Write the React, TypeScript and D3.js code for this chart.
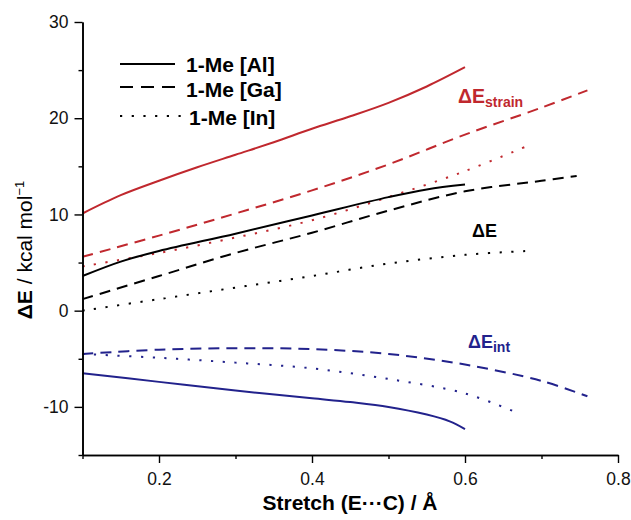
import React, { useEffect, useRef } from "react";
import * as d3 from "d3";

const xTicksMajor = [0.2, 0.4, 0.6, 0.8];
const xTicksMinor = [0.1, 0.3, 0.5, 0.7];
const yTicksMajor = [-10, 0, 10, 20, 30];
const yTicksMinor = [-15, -5, 5, 15, 25];

const alStrain: [number, number][] = [[0.1, 10.1], [0.15, 12.0], [0.2, 13.5], [0.25, 14.9], [0.3, 16.2], [0.35, 17.5], [0.4, 18.9], [0.45, 20.2], [0.5, 21.6], [0.55, 23.3], [0.6, 25.3]];
const gaStrain: [number, number][] = [[0.1, 5.6], [0.2, 7.8], [0.3, 10.1], [0.4, 12.5], [0.5, 15.2], [0.6, 18.3], [0.7, 21.1], [0.76, 22.9]];
const inStrain: [number, number][] = [[0.1, 4.6], [0.2, 6.0], [0.3, 7.6], [0.4, 9.4], [0.5, 11.8], [0.6, 14.5], [0.684, 17.2]];

const alE: [number, number][] = [[0.1, 3.6], [0.15, 5.1], [0.2, 6.2], [0.3, 8.0], [0.4, 9.9], [0.5, 11.8], [0.55, 12.6], [0.6, 13.1]];
const gaE: [number, number][] = [[0.1, 1.2], [0.2, 3.6], [0.3, 6.0], [0.4, 8.1], [0.5, 10.4], [0.6, 12.4], [0.7, 13.5], [0.746, 14.0]];
const inE: [number, number][] = [[0.1, 0.0], [0.2, 1.2], [0.3, 2.4], [0.4, 3.6], [0.5, 4.9], [0.6, 5.8], [0.68, 6.2]];

const alInt: [number, number][] = [[0.1, -6.5], [0.2, -7.4], [0.3, -8.3], [0.4, -9.1], [0.45, -9.5], [0.5, -10.0], [0.55, -10.8], [0.58, -11.5], [0.6, -12.3]];
const gaInt: [number, number][] = [[0.1, -4.5], [0.2, -4.05], [0.3, -3.9], [0.4, -4.0], [0.5, -4.5], [0.6, -5.6], [0.7, -7.3], [0.76, -8.9]];
const inInt: [number, number][] = [[0.1, -4.5], [0.2, -4.9], [0.3, -5.4], [0.4, -6.0], [0.5, -7.1], [0.6, -8.6], [0.671, -10.7]];

const legendLabels = ["1-Me [Al]", "1-Me [Ga]", "1-Me [In]"];

const RED = "#c0282e";
const BLUE = "#22228c";
const BLACK = "#000";
const DASH = "11,7";
const DOT = "2.2,9.5";

const FONT = "Arial, 'Liberation Sans', sans-serif";

export default function App() {
  const xRef = useRef<SVGGElement>(null);
  const yRef = useRef<SVGGElement>(null);

  const x = d3.scaleLinear().domain([0.1, 0.8]).range([82.5, 618]);
  const y = d3.scaleLinear().domain([-15, 30]).range([455, 22]);

  useEffect(() => {
    const gx = d3.select(xRef.current!);
    gx.selectAll("*").remove();
    gx.append("g").call(
      d3.axisBottom(x).tickValues(xTicksMajor).tickSize(8).tickSizeOuter(0).tickFormat(d3.format(".1f") as any)
    );
    gx.append("g").call(
      d3.axisBottom(x).tickValues(xTicksMinor).tickSize(4).tickSizeOuter(0).tickFormat(() => "")
    );
    gx.selectAll("path.domain").attr("stroke-width", 1.6);
    gx.selectAll("line").attr("stroke-width", 1.4);
    gx.selectAll("text").attr("font-size", 17.5).attr("font-family", FONT).attr("y", 30).attr("dy", 0).attr("fill", "#111");

    const gy = d3.select(yRef.current!);
    gy.selectAll("*").remove();
    gy.append("g").call(
      d3.axisLeft(y).tickValues(yTicksMajor).tickSize(8).tickSizeOuter(0).tickFormat((d: any) => String(d))
    );
    gy.append("g").call(
      d3.axisLeft(y).tickValues(yTicksMinor).tickSize(4).tickSizeOuter(0).tickFormat(() => "")
    );
    gy.selectAll("path.domain").attr("stroke-width", 1.6);
    gy.selectAll("line").attr("stroke-width", 1.4);
    gy.selectAll("text").attr("font-size", 17.5).attr("font-family", FONT).attr("x", -14).attr("fill", "#111");
  }, []);

  const line = d3
    .line<[number, number]>()
    .x((d) => x(d[0]))
    .y((d) => y(d[1]))
    .curve(d3.curveCatmullRom.alpha(0.5));

  const series: { data: [number, number][]; color: string; dash?: string }[] = [
    { data: alStrain, color: RED },
    { data: gaStrain, color: RED, dash: DASH },
    { data: inStrain, color: RED, dash: DOT },
    { data: alE, color: BLACK },
    { data: gaE, color: BLACK, dash: DASH },
    { data: inE, color: BLACK, dash: DOT },
    { data: alInt, color: BLUE },
    { data: gaInt, color: BLUE, dash: DASH },
    { data: inInt, color: BLUE, dash: DOT },
  ];

  const legendDash = [undefined, "13,8", DOT];
  const legendY = [64, 87, 116];
  const legendBase = [72, 97, 125];

  return (
    <svg width={631} height={520} style={{ position: "absolute", left: 0, top: 0, background: "#fff" }} fontFamily={FONT}>
      {series.map((s, i) => (
        <path
          key={i}
          d={line(s.data) || ""}
          fill="none"
          stroke={s.color}
          strokeWidth={2}
          strokeDasharray={s.dash}
        />
      ))}
      <g ref={xRef} transform={`translate(0,${y(-15)})`} />
      <g ref={yRef} transform={`translate(${x(0.1)},0)`} />

      {legendLabels.map((l, i) => (
        <g key={l}>
          <line x1={120} x2={i === 2 ? 182 : 175} y1={legendY[i]} y2={legendY[i]} stroke="#000" strokeWidth={2} strokeDasharray={legendDash[i]} />
          <text x={i === 2 ? 189 : 186} y={legendBase[i]} fontSize={21} fontWeight="bold">
            {l}
          </text>
        </g>
      ))}

      <text x={458} y={103} fill={RED} fontWeight="bold" fontSize={19.5}>
        ΔE<tspan fontSize={14} dy={4}>strain</tspan>
      </text>
      <text x={472} y={237} fill={BLACK} fontWeight="bold" fontSize={18}>
        ΔE
      </text>
      <text x={468} y={348} fill={BLUE} fontWeight="bold" fontSize={18}>
        ΔE<tspan fontSize={14} dy={4}>int</tspan>
      </text>

      <text transform="translate(32,250) rotate(-90)" textAnchor="middle" fontSize={21}>
        <tspan fontWeight="bold">ΔE</tspan>
        <tspan> / kcal mol</tspan>
        <tspan fontSize={13} dy={-8}>−1</tspan>
      </text>
      <text x={350} y={510} textAnchor="middle" fontSize={21} fontWeight="bold">
        Stretch (E···C) / Å
      </text>
    </svg>
  );
}
